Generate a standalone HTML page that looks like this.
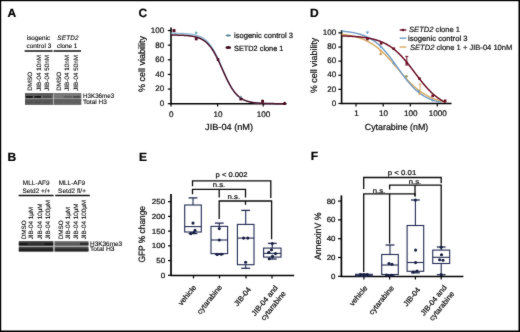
<!DOCTYPE html>
<html><head><meta charset="utf-8"><style>
html,body{margin:0;padding:0;background:#fff;}
svg{display:block;will-change:transform;}
text{font-family:"Liberation Sans", sans-serif;text-rendering:geometricPrecision;}
</style></head><body>
<svg width="520" height="332" viewBox="0 0 520 332">
<defs><filter id="soft" x="0" y="0" width="100%" height="100%" color-interpolation-filters="sRGB"><feConvolveMatrix order="3" kernelMatrix="1 2 1 2 28 2 1 2 1" edgeMode="duplicate"/></filter></defs>
<g filter="url(#soft)">
<rect width="520" height="332" fill="#fff"/>
<text x="7.50" y="16.90" font-size="12" font-weight="bold" fill="#000" stroke="#000" stroke-width="0.22">A</text>
<text x="7.40" y="160.70" font-size="12" font-weight="bold" fill="#000" stroke="#000" stroke-width="0.22">B</text>
<text x="138.50" y="17.20" font-size="12" font-weight="bold" fill="#000" stroke="#000" stroke-width="0.22">C</text>
<text x="310.10" y="17.10" font-size="12" font-weight="bold" fill="#000" stroke="#000" stroke-width="0.22">D</text>
<text x="139.10" y="160.50" font-size="12" font-weight="bold" fill="#000" stroke="#000" stroke-width="0.22">E</text>
<text x="310.80" y="160.40" font-size="12" font-weight="bold" fill="#000" stroke="#000" stroke-width="0.22">F</text>
<text x="38.50" y="39.80" font-size="6.4" text-anchor="middle" textLength="23.6" lengthAdjust="spacing" stroke="#1a1a1a" stroke-width="0.12">isogenic</text>
<text x="38.80" y="47.60" font-size="6.4" text-anchor="middle" textLength="24.8" lengthAdjust="spacing" stroke="#1a1a1a" stroke-width="0.12">control 3</text>
<text x="68.00" y="39.80" font-size="6.4" text-anchor="middle" font-style="italic" textLength="21.3" lengthAdjust="spacing" stroke="#1a1a1a" stroke-width="0.12">SETD2</text>
<text x="67.20" y="47.60" font-size="6.4" text-anchor="middle" textLength="20.3" lengthAdjust="spacing" stroke="#1a1a1a" stroke-width="0.12">clone 1</text>
<line x1="24.60" y1="51.00" x2="52.60" y2="51.00" stroke="#111" stroke-width="1.5"/>
<line x1="53.60" y1="51.00" x2="81.00" y2="51.00" stroke="#111" stroke-width="1.5"/>
<text transform="translate(31.90,90.80) rotate(-90)" font-size="6.3" stroke="#1a1a1a" stroke-width="0.12">DMSO</text>
<text transform="translate(40.80,90.80) rotate(-90)" font-size="6.3" stroke="#1a1a1a" stroke-width="0.12">JIB-04 10nM</text>
<text transform="translate(49.40,90.80) rotate(-90)" font-size="6.3" stroke="#1a1a1a" stroke-width="0.12">JIB-04 50nM</text>
<text transform="translate(60.80,90.80) rotate(-90)" font-size="6.3" stroke="#1a1a1a" stroke-width="0.12">DMSO</text>
<text transform="translate(69.20,90.80) rotate(-90)" font-size="6.3" stroke="#1a1a1a" stroke-width="0.12">JIB-04 10nM</text>
<text transform="translate(77.70,90.80) rotate(-90)" font-size="6.3" stroke="#1a1a1a" stroke-width="0.12">JIB-04 50nM</text>
<rect x="25.00" y="93.50" width="56.20" height="11.20" fill="#6c6c6c"/>
<rect x="25.00" y="93.50" width="28.20" height="5.10" fill="#646464"/>
<rect x="25.00" y="93.50" width="56.20" height="1.00" fill="#444444"/>
<rect x="53.80" y="93.50" width="27.40" height="5.10" fill="#7a7a7a"/>
<rect x="25.90" y="95.90" width="6.90" height="2.00" fill="#141414"/>
<rect x="34.40" y="95.90" width="6.60" height="2.00" fill="#181818"/>
<rect x="42.90" y="95.90" width="8.50" height="2.00" fill="#484848"/>
<rect x="54.50" y="95.90" width="7.50" height="2.00" fill="#747474"/>
<rect x="63.50" y="95.90" width="8.50" height="2.00" fill="#5e5e5e"/>
<rect x="73.00" y="95.90" width="7.50" height="2.00" fill="#4c4c4c"/>
<rect x="25.00" y="98.60" width="56.20" height="0.90" fill="#c4c4c4"/>
<rect x="25.00" y="99.50" width="28.20" height="5.20" fill="#5e5e5e"/>
<rect x="53.80" y="99.50" width="27.40" height="5.20" fill="#686868"/>
<rect x="25.00" y="99.50" width="56.20" height="0.90" fill="#4a4a4a"/>
<rect x="25.90" y="101.60" width="7.20" height="1.60" fill="#4e4e4e"/>
<rect x="34.40" y="101.60" width="7.20" height="1.60" fill="#4e4e4e"/>
<rect x="42.90" y="101.60" width="7.20" height="1.60" fill="#4e4e4e"/>
<rect x="54.50" y="101.60" width="8.00" height="1.60" fill="#5c5c5c"/>
<rect x="63.50" y="101.60" width="8.00" height="1.60" fill="#5c5c5c"/>
<rect x="72.50" y="101.60" width="8.00" height="1.60" fill="#5c5c5c"/>
<rect x="53.00" y="93.50" width="0.90" height="11.20" fill="#bdbdbd"/>
<text x="83.00" y="98.40" font-size="6.3" textLength="31.2" lengthAdjust="spacingAndGlyphs" stroke="#1a1a1a" stroke-width="0.12">H3K36me3</text>
<text x="83.00" y="103.90" font-size="6.3" textLength="23.8" lengthAdjust="spacingAndGlyphs" stroke="#1a1a1a" stroke-width="0.12">Total H3</text>
<text x="36.20" y="184.80" font-size="6.4" text-anchor="middle" textLength="26.7" lengthAdjust="spacing" stroke="#1a1a1a" stroke-width="0.12">MLL-AF9</text>
<text x="36.40" y="192.50" font-size="6.4" text-anchor="middle" textLength="27.9" lengthAdjust="spacing" stroke="#1a1a1a" stroke-width="0.12">Setd2 +/+</text>
<text x="71.90" y="184.80" font-size="6.4" text-anchor="middle" textLength="26.4" lengthAdjust="spacing" stroke="#1a1a1a" stroke-width="0.12">MLL-AF9</text>
<text x="72.00" y="192.50" font-size="6.4" text-anchor="middle" textLength="27.9" lengthAdjust="spacing" stroke="#1a1a1a" stroke-width="0.12">Setd2 fl/+</text>
<line x1="18.60" y1="195.50" x2="53.60" y2="195.50" stroke="#111" stroke-width="1.5"/>
<line x1="55.20" y1="195.50" x2="89.80" y2="195.50" stroke="#111" stroke-width="1.5"/>
<text transform="translate(26.10,239.30) rotate(-90)" font-size="6.3" stroke="#1a1a1a" stroke-width="0.12">DMSO</text>
<text transform="translate(33.20,239.30) rotate(-90)" font-size="6.3" stroke="#1a1a1a" stroke-width="0.12">JIB-04 1μM</text>
<text transform="translate(41.50,239.30) rotate(-90)" font-size="6.3" stroke="#1a1a1a" stroke-width="0.12">JIB-04 10μM</text>
<text transform="translate(49.70,239.30) rotate(-90)" font-size="6.3" stroke="#1a1a1a" stroke-width="0.12">JIB-04 100μM</text>
<text transform="translate(62.60,239.30) rotate(-90)" font-size="6.3" stroke="#1a1a1a" stroke-width="0.12">DMSO</text>
<text transform="translate(70.20,239.30) rotate(-90)" font-size="6.3" stroke="#1a1a1a" stroke-width="0.12">JIB-04 1μM</text>
<text transform="translate(78.00,239.30) rotate(-90)" font-size="6.3" stroke="#1a1a1a" stroke-width="0.12">JIB-04 10μM</text>
<text transform="translate(86.00,239.30) rotate(-90)" font-size="6.3" stroke="#1a1a1a" stroke-width="0.12">JIB-04 100μM</text>
<rect x="18.80" y="241.10" width="34.60" height="5.00" fill="#464646"/>
<rect x="18.80" y="242.80" width="34.60" height="2.20" fill="#1a1a1a"/>
<rect x="27.50" y="242.80" width="17.00" height="2.20" fill="#303030"/>
<rect x="54.50" y="241.10" width="34.00" height="5.00" fill="#747474"/>
<rect x="54.50" y="242.60" width="25.50" height="2.40" fill="#585858"/>
<rect x="80.00" y="242.60" width="8.50" height="2.40" fill="#2e2e2e"/>
<rect x="18.80" y="246.10" width="69.70" height="0.80" fill="#a8a8a8"/>
<rect x="18.80" y="246.90" width="34.60" height="4.90" fill="#444444"/>
<rect x="18.80" y="248.60" width="34.60" height="2.20" fill="#1c1c1c"/>
<rect x="54.50" y="246.90" width="34.00" height="4.90" fill="#505050"/>
<rect x="54.50" y="248.60" width="34.00" height="2.20" fill="#262626"/>
<rect x="53.40" y="241.10" width="1.10" height="10.70" fill="#b0b0b0"/>
<text x="90.00" y="245.60" font-size="6.4" textLength="32.2" lengthAdjust="spacingAndGlyphs" stroke="#1a1a1a" stroke-width="0.12">H3K36me3</text>
<text x="90.00" y="250.90" font-size="6.4" textLength="24.5" lengthAdjust="spacingAndGlyphs" stroke="#1a1a1a" stroke-width="0.12">Total H3</text>
<line x1="171.00" y1="27.50" x2="171.00" y2="104.30" stroke="#000" stroke-width="1.6"/>
<line x1="170.40" y1="103.70" x2="286.50" y2="103.70" stroke="#000" stroke-width="1.5"/>
<line x1="167.80" y1="103.70" x2="171.00" y2="103.70" stroke="#000" stroke-width="1.2"/>
<text x="164.20" y="106.05" font-size="8.0" text-anchor="end" stroke="#1a1a1a" stroke-width="0.22">0</text>
<line x1="167.80" y1="89.07" x2="171.00" y2="89.07" stroke="#000" stroke-width="1.2"/>
<text x="164.20" y="91.42" font-size="8.0" text-anchor="end" stroke="#1a1a1a" stroke-width="0.22">20</text>
<line x1="167.80" y1="74.44" x2="171.00" y2="74.44" stroke="#000" stroke-width="1.2"/>
<text x="164.20" y="76.79" font-size="8.0" text-anchor="end" stroke="#1a1a1a" stroke-width="0.22">40</text>
<line x1="167.80" y1="59.81" x2="171.00" y2="59.81" stroke="#000" stroke-width="1.2"/>
<text x="164.20" y="62.16" font-size="8.0" text-anchor="end" stroke="#1a1a1a" stroke-width="0.22">60</text>
<line x1="167.80" y1="45.18" x2="171.00" y2="45.18" stroke="#000" stroke-width="1.2"/>
<text x="164.20" y="47.53" font-size="8.0" text-anchor="end" stroke="#1a1a1a" stroke-width="0.22">80</text>
<line x1="167.80" y1="30.55" x2="171.00" y2="30.55" stroke="#000" stroke-width="1.2"/>
<text x="164.20" y="32.90" font-size="8.0" text-anchor="end" stroke="#1a1a1a" stroke-width="0.22">100</text>
<line x1="171.00" y1="103.70" x2="171.00" y2="106.60" stroke="#000" stroke-width="1.2"/>
<text x="171.30" y="116.50" font-size="8.1" text-anchor="middle" stroke="#1a1a1a" stroke-width="0.22">0</text>
<line x1="217.60" y1="103.70" x2="217.60" y2="106.60" stroke="#000" stroke-width="1.2"/>
<text x="217.90" y="116.50" font-size="8.1" text-anchor="middle" stroke="#1a1a1a" stroke-width="0.22">10</text>
<line x1="263.20" y1="103.70" x2="263.20" y2="106.60" stroke="#000" stroke-width="1.2"/>
<text x="263.50" y="116.50" font-size="8.1" text-anchor="middle" stroke="#1a1a1a" stroke-width="0.22">100</text>
<text x="229.05" y="129.90" font-size="8.9" text-anchor="middle" textLength="47.9" lengthAdjust="spacingAndGlyphs" stroke="#1a1a1a" stroke-width="0.22">JIB-04 (nM)</text>
<text transform="translate(144.80,63.90) rotate(-90)" font-size="9.3" text-anchor="middle" textLength="56.0" lengthAdjust="spacingAndGlyphs" stroke="#1a1a1a" stroke-width="0.22">% cell viability</text>
<path d="M171.00,33.19 L171.96,33.20 L172.92,33.21 L173.88,33.22 L174.83,33.24 L175.79,33.26 L176.75,33.28 L177.71,33.30 L178.67,33.33 L179.62,33.36 L180.58,33.39 L181.54,33.43 L182.50,33.47 L183.46,33.52 L184.42,33.57 L185.38,33.63 L186.33,33.70 L187.29,33.78 L188.25,33.87 L189.21,33.98 L190.17,34.09 L191.12,34.22 L192.08,34.37 L193.04,34.54 L194.00,34.73 L194.96,34.94 L195.92,35.18 L196.88,35.45 L197.83,35.76 L198.79,36.10 L199.75,36.49 L200.71,36.92 L201.67,37.41 L202.62,37.95 L203.58,38.56 L204.54,39.23 L205.50,39.98 L206.46,40.81 L207.42,41.73 L208.38,42.74 L209.33,43.84 L210.29,45.05 L211.25,46.37 L212.21,47.79 L213.17,49.32 L214.12,50.96 L215.08,52.71 L216.04,54.56 L217.00,56.51 L217.96,58.54 L218.92,60.64 L219.88,62.80 L220.83,65.01 L221.79,67.24 L222.75,69.48 L223.71,71.72 L224.67,73.92 L225.62,76.09 L226.58,78.19 L227.54,80.22 L228.50,82.17 L229.46,84.03 L230.42,85.78 L231.38,87.42 L232.33,88.96 L233.29,90.39 L234.25,91.71 L235.21,92.92 L236.17,94.03 L237.12,95.04 L238.08,95.96 L239.04,96.80 L240.00,97.55 L240.96,98.23 L241.92,98.84 L242.88,99.38 L243.83,99.87 L244.79,100.30 L245.75,100.69 L246.71,101.04 L247.67,101.34 L248.62,101.62 L249.58,101.86 L250.54,102.07 L251.50,102.26 L252.46,102.43 L253.42,102.58 L254.38,102.71 L255.33,102.83 L256.29,102.93 L257.25,103.02 L258.21,103.10 L259.17,103.17 L260.12,103.24 L261.08,103.29 L262.04,103.34 L263.00,103.38 L263.96,103.42 L264.92,103.45 L265.88,103.48 L266.83,103.51 L267.79,103.53 L268.75,103.55 L269.71,103.57 L270.67,103.58 L271.62,103.60 L272.58,103.61 L273.54,103.62 L274.50,103.63 L275.46,103.64 L276.42,103.65 L277.38,103.65 L278.33,103.66 L279.29,103.66 L280.25,103.67 L281.21,103.67 L282.17,103.67 L283.12,103.68 L284.08,103.68 L285.04,103.68 L286.00,103.68" stroke="#8bbbd9" stroke-width="1.3" fill="none"/>
<path d="M171.00,35.02 L171.96,35.03 L172.92,35.04 L173.88,35.06 L174.83,35.07 L175.79,35.09 L176.75,35.11 L177.71,35.13 L178.67,35.16 L179.62,35.19 L180.58,35.22 L181.54,35.26 L182.50,35.31 L183.46,35.35 L184.42,35.41 L185.38,35.47 L186.33,35.54 L187.29,35.62 L188.25,35.71 L189.21,35.81 L190.17,35.93 L191.12,36.06 L192.08,36.21 L193.04,36.37 L194.00,36.56 L194.96,36.77 L195.92,37.01 L196.88,37.28 L197.83,37.58 L198.79,37.92 L199.75,38.30 L200.71,38.73 L201.67,39.20 L202.62,39.73 L203.58,40.32 L204.54,40.98 L205.50,41.71 L206.46,42.52 L207.42,43.41 L208.38,44.39 L209.33,45.46 L210.29,46.63 L211.25,47.90 L212.21,49.27 L213.17,50.75 L214.12,52.33 L215.08,54.02 L216.04,55.80 L217.00,57.67 L217.96,59.62 L218.92,61.64 L219.88,63.72 L220.83,65.84 L221.79,67.99 L222.75,70.15 L223.71,72.30 L224.67,74.43 L225.62,76.52 L226.58,78.56 L227.54,80.53 L228.50,82.42 L229.46,84.22 L230.42,85.92 L231.38,87.53 L232.33,89.03 L233.29,90.43 L234.25,91.72 L235.21,92.92 L236.17,94.01 L237.12,95.01 L238.08,95.92 L239.04,96.75 L240.00,97.49 L240.96,98.17 L241.92,98.77 L242.88,99.32 L243.83,99.81 L244.79,100.24 L245.75,100.63 L246.71,100.98 L247.67,101.29 L248.62,101.57 L249.58,101.81 L250.54,102.03 L251.50,102.22 L252.46,102.39 L253.42,102.55 L254.38,102.68 L255.33,102.80 L256.29,102.90 L257.25,103.00 L258.21,103.08 L259.17,103.15 L260.12,103.22 L261.08,103.27 L262.04,103.32 L263.00,103.37 L263.96,103.41 L264.92,103.44 L265.88,103.47 L266.83,103.50 L267.79,103.52 L268.75,103.54 L269.71,103.56 L270.67,103.58 L271.62,103.59 L272.58,103.61 L273.54,103.62 L274.50,103.63 L275.46,103.63 L276.42,103.64 L277.38,103.65 L278.33,103.66 L279.29,103.66 L280.25,103.67 L281.21,103.67 L282.17,103.67 L283.12,103.68 L284.08,103.68 L285.04,103.68 L286.00,103.68" stroke="#4a1028" stroke-width="1.5" fill="none"/>
<rect x="172.50" y="29.10" width="3.00" height="3.00" fill="#5a0a22"/>
<line x1="194.90" y1="32.80" x2="197.50" y2="32.80" stroke="#4a9aaa" stroke-width="1.0"/>
<line x1="196.20" y1="31.50" x2="196.20" y2="34.10" stroke="#4a9aaa" stroke-width="1.0"/>
<rect x="194.80" y="37.50" width="2.80" height="2.80" fill="#4a0a1e"/>
<rect x="216.70" y="58.20" width="2.60" height="2.60" fill="#4a0a1e"/>
<line x1="239.60" y1="96.90" x2="242.00" y2="96.90" stroke="#6aa0b0" stroke-width="1.0"/>
<line x1="240.80" y1="95.70" x2="240.80" y2="98.10" stroke="#6aa0b0" stroke-width="1.0"/>
<rect x="239.40" y="97.60" width="2.80" height="2.80" fill="#4a0a1e"/>
<line x1="262.30" y1="99.60" x2="262.30" y2="103.00" stroke="#6a1028" stroke-width="1.0"/>
<rect x="261.20" y="99.90" width="2.80" height="2.80" fill="#4a0a1e"/>
<circle cx="284.6" cy="103.4" r="1.6" fill="#4a0a1e"/>
<ellipse cx="228.3" cy="35.5" rx="2.7" ry="1.1" fill="#4a7a92"/>
<ellipse cx="228.3" cy="47.5" rx="2.9" ry="1.5" fill="#3e0a1c"/>
<text x="234.00" y="38.20" font-size="7.65" textLength="59.0" lengthAdjust="spacingAndGlyphs" stroke="#1a1a1a" stroke-width="0.22">isogenic control 3</text>
<text x="234.00" y="50.50" font-size="7.65" textLength="49.4" lengthAdjust="spacingAndGlyphs" stroke="#1a1a1a" stroke-width="0.22">SETD2 clone 1</text>
<line x1="341.60" y1="30.20" x2="341.60" y2="104.10" stroke="#000" stroke-width="1.6"/>
<line x1="341.00" y1="103.50" x2="451.50" y2="103.50" stroke="#000" stroke-width="1.5"/>
<line x1="338.40" y1="103.50" x2="341.60" y2="103.50" stroke="#000" stroke-width="1.2"/>
<text x="336.20" y="105.65" font-size="8.0" text-anchor="end" stroke="#1a1a1a" stroke-width="0.22">0</text>
<line x1="338.40" y1="89.38" x2="341.60" y2="89.38" stroke="#000" stroke-width="1.2"/>
<text x="336.20" y="91.53" font-size="8.0" text-anchor="end" stroke="#1a1a1a" stroke-width="0.22">20</text>
<line x1="338.40" y1="75.26" x2="341.60" y2="75.26" stroke="#000" stroke-width="1.2"/>
<text x="336.20" y="77.41" font-size="8.0" text-anchor="end" stroke="#1a1a1a" stroke-width="0.22">40</text>
<line x1="338.40" y1="61.14" x2="341.60" y2="61.14" stroke="#000" stroke-width="1.2"/>
<text x="336.20" y="63.29" font-size="8.0" text-anchor="end" stroke="#1a1a1a" stroke-width="0.22">60</text>
<line x1="338.40" y1="47.02" x2="341.60" y2="47.02" stroke="#000" stroke-width="1.2"/>
<text x="336.20" y="49.17" font-size="8.0" text-anchor="end" stroke="#1a1a1a" stroke-width="0.22">80</text>
<line x1="338.40" y1="32.90" x2="341.60" y2="32.90" stroke="#000" stroke-width="1.2"/>
<text x="336.20" y="35.05" font-size="8.0" text-anchor="end" stroke="#1a1a1a" stroke-width="0.22">100</text>
<line x1="356.00" y1="103.50" x2="356.00" y2="106.40" stroke="#000" stroke-width="1.2"/>
<text x="356.40" y="116.30" font-size="8.1" text-anchor="middle" stroke="#1a1a1a" stroke-width="0.22">1</text>
<line x1="383.20" y1="103.50" x2="383.20" y2="106.40" stroke="#000" stroke-width="1.2"/>
<text x="383.60" y="116.30" font-size="8.1" text-anchor="middle" stroke="#1a1a1a" stroke-width="0.22">10</text>
<line x1="410.30" y1="103.50" x2="410.30" y2="106.40" stroke="#000" stroke-width="1.2"/>
<text x="410.70" y="116.30" font-size="8.1" text-anchor="middle" stroke="#1a1a1a" stroke-width="0.22">100</text>
<line x1="437.30" y1="103.50" x2="437.30" y2="106.40" stroke="#000" stroke-width="1.2"/>
<text x="437.70" y="116.30" font-size="8.1" text-anchor="middle" stroke="#1a1a1a" stroke-width="0.22">1000</text>
<text x="396.50" y="130.00" font-size="8.9" text-anchor="middle" textLength="63.5" lengthAdjust="spacingAndGlyphs" stroke="#1a1a1a" stroke-width="0.22">Cytarabine (nM)</text>
<text transform="translate(316.60,65.40) rotate(-90)" font-size="9.3" text-anchor="middle" textLength="55.3" lengthAdjust="spacingAndGlyphs" stroke="#1a1a1a" stroke-width="0.22">% cell viability</text>
<path d="M341.60,34.20 L342.04,34.25 L342.48,34.30 L342.92,34.36 L343.36,34.42 L343.80,34.47 L344.24,34.53 L344.69,34.60 L345.13,34.66 L345.57,34.72 L346.01,34.79 L346.45,34.86 L346.89,34.93 L347.33,35.00 L347.77,35.08 L348.21,35.15 L348.65,35.23 L349.09,35.31 L349.53,35.39 L349.98,35.48 L350.42,35.57 L350.86,35.65 L351.30,35.75 L351.74,35.84 L352.18,35.94 L352.62,36.04 L353.06,36.14 L353.50,36.24 L353.94,36.35 L354.38,36.46 L354.82,36.57 L355.26,36.69 L355.71,36.80 L356.15,36.93 L356.59,37.05 L357.03,37.18 L357.47,37.31 L357.91,37.44 L358.35,37.58 L358.79,37.72 L359.23,37.87 L359.67,38.01 L360.11,38.16 L360.55,38.32 L360.99,38.48 L361.44,38.64 L361.88,38.81 L362.32,38.98 L362.76,39.15 L363.20,39.33 L363.64,39.52 L364.08,39.70 L364.52,39.89 L364.96,40.09 L365.40,40.29 L365.84,40.50 L366.28,40.70 L366.73,40.92 L367.17,41.14 L367.61,41.36 L368.05,41.59 L368.49,41.82 L368.93,42.06 L369.37,42.31 L369.81,42.56 L370.25,42.81 L370.69,43.07 L371.13,43.33 L371.57,43.60 L372.01,43.88 L372.46,44.16 L372.90,44.44 L373.34,44.74 L373.78,45.03 L374.22,45.34 L374.66,45.65 L375.10,45.96 L375.54,46.28 L375.98,46.60 L376.42,46.94 L376.86,47.27 L377.30,47.62 L377.74,47.96 L378.19,48.32 L378.63,48.68 L379.07,49.04 L379.51,49.42 L379.95,49.79 L380.39,50.18 L380.83,50.56 L381.27,50.96 L381.71,51.36 L382.15,51.76 L382.59,52.17 L383.03,52.59 L383.48,53.01 L383.92,53.44 L384.36,53.87 L384.80,54.30 L385.24,54.75 L385.68,55.19 L386.12,55.64 L386.56,56.10 L387.00,56.56 L387.44,57.02 L387.88,57.49 L388.32,57.97 L388.76,58.44 L389.21,58.93 L389.65,59.41 L390.09,59.90 L390.53,60.39 L390.97,60.89 L391.41,61.39 L391.85,61.89 L392.29,62.39 L392.73,62.90 L393.17,63.41 L393.61,63.92 L394.05,64.43 L394.50,64.94 L394.94,65.46 L395.38,65.98 L395.82,66.50 L396.26,67.01 L396.70,67.53 L397.14,68.05 L397.58,68.58 L398.02,69.10 L398.46,69.62 L398.90,70.14 L399.34,70.66 L399.78,71.18 L400.23,71.69 L400.67,72.21 L401.11,72.73 L401.55,73.24 L401.99,73.75 L402.43,74.26 L402.87,74.77 L403.31,75.27 L403.75,75.78 L404.19,76.28 L404.63,76.77 L405.07,77.27 L405.51,77.76 L405.96,78.24 L406.40,78.73 L406.84,79.21 L407.28,79.68 L407.72,80.15 L408.16,80.62 L408.60,81.08 L409.04,81.54 L409.48,81.99 L409.92,82.44 L410.36,82.89 L410.80,83.33 L411.25,83.76 L411.69,84.19 L412.13,84.61 L412.57,85.03 L413.01,85.45 L413.45,85.85 L413.89,86.26 L414.33,86.65 L414.77,87.04 L415.21,87.43 L415.65,87.81 L416.09,88.18 L416.53,88.55 L416.98,88.91 L417.42,89.27 L417.86,89.62 L418.30,89.97 L418.74,90.31 L419.18,90.64 L419.62,90.97 L420.06,91.29 L420.50,91.61 L420.94,91.92 L421.38,92.23 L421.82,92.53 L422.26,92.82 L422.71,93.11 L423.15,93.39 L423.59,93.67 L424.03,93.94 L424.47,94.21 L424.91,94.47 L425.35,94.73 L425.79,94.98 L426.23,95.23 L426.67,95.47 L427.11,95.71 L427.55,95.94 L428.00,96.16 L428.44,96.38 L428.88,96.60 L429.32,96.81 L429.76,97.02 L430.20,97.22 L430.64,97.42 L431.08,97.61 L431.52,97.80 L431.96,97.99 L432.40,98.17 L432.84,98.35 L433.28,98.52 L433.73,98.69 L434.17,98.85 L434.61,99.01 L435.05,99.17 L435.49,99.32 L435.93,99.47 L436.37,99.62 L436.81,99.76 L437.25,99.90 L437.69,100.04 L438.13,100.17 L438.57,100.30 L439.01,100.42 L439.46,100.55 L439.90,100.67 L440.34,100.78 L440.78,100.90 L441.22,101.01 L441.66,101.12 L442.10,101.22 L442.54,101.33 L442.98,101.43 L443.42,101.52 L443.86,101.62 L444.30,101.71 L444.75,101.80 L445.19,101.89" stroke="#d8a860" stroke-width="1.4" fill="none"/>
<path d="M341.60,31.17 L342.04,31.20 L342.47,31.24 L342.91,31.28 L343.34,31.32 L343.78,31.36 L344.21,31.40 L344.65,31.44 L345.08,31.49 L345.52,31.54 L345.95,31.58 L346.39,31.63 L346.82,31.68 L347.26,31.74 L347.69,31.79 L348.13,31.84 L348.56,31.90 L349.00,31.96 L349.43,32.02 L349.87,32.09 L350.30,32.15 L350.74,32.22 L351.17,32.29 L351.61,32.36 L352.04,32.43 L352.48,32.51 L352.92,32.59 L353.35,32.67 L353.79,32.75 L354.22,32.84 L354.66,32.93 L355.09,33.02 L355.53,33.11 L355.96,33.21 L356.40,33.31 L356.83,33.41 L357.27,33.52 L357.70,33.62 L358.14,33.74 L358.57,33.85 L359.01,33.97 L359.44,34.10 L359.88,34.22 L360.31,34.35 L360.75,34.49 L361.18,34.62 L361.62,34.77 L362.05,34.91 L362.49,35.06 L362.92,35.22 L363.36,35.38 L363.80,35.54 L364.23,35.71 L364.67,35.88 L365.10,36.06 L365.54,36.24 L365.97,36.43 L366.41,36.62 L366.84,36.82 L367.28,37.03 L367.71,37.24 L368.15,37.45 L368.58,37.67 L369.02,37.90 L369.45,38.13 L369.89,38.37 L370.32,38.61 L370.76,38.87 L371.19,39.12 L371.63,39.39 L372.06,39.66 L372.50,39.93 L372.93,40.22 L373.37,40.51 L373.80,40.81 L374.24,41.11 L374.68,41.42 L375.11,41.74 L375.55,42.07 L375.98,42.40 L376.42,42.74 L376.85,43.09 L377.29,43.45 L377.72,43.81 L378.16,44.19 L378.59,44.56 L379.03,44.95 L379.46,45.35 L379.90,45.75 L380.33,46.16 L380.77,46.58 L381.20,47.00 L381.64,47.44 L382.07,47.88 L382.51,48.33 L382.94,48.78 L383.38,49.25 L383.81,49.72 L384.25,50.20 L384.68,50.68 L385.12,51.18 L385.55,51.68 L385.99,52.18 L386.43,52.70 L386.86,53.22 L387.30,53.75 L387.73,54.28 L388.17,54.82 L388.60,55.37 L389.04,55.92 L389.47,56.48 L389.91,57.04 L390.34,57.61 L390.78,58.18 L391.21,58.76 L391.65,59.34 L392.08,59.93 L392.52,60.52 L392.95,61.12 L393.39,61.72 L393.82,62.32 L394.26,62.92 L394.69,63.53 L395.13,64.14 L395.56,64.75 L396.00,65.36 L396.43,65.97 L396.87,66.58 L397.31,67.20 L397.74,67.81 L398.18,68.43 L398.61,69.04 L399.05,69.66 L399.48,70.27 L399.92,70.88 L400.35,71.49 L400.79,72.09 L401.22,72.70 L401.66,73.30 L402.09,73.90 L402.53,74.49 L402.96,75.09 L403.40,75.67 L403.83,76.26 L404.27,76.84 L404.70,77.41 L405.14,77.98 L405.57,78.55 L406.01,79.11 L406.44,79.66 L406.88,80.21 L407.31,80.75 L407.75,81.29 L408.19,81.82 L408.62,82.34 L409.06,82.86 L409.49,83.37 L409.93,83.87 L410.36,84.36 L410.80,84.85 L411.23,85.33 L411.67,85.81 L412.10,86.27 L412.54,86.73 L412.97,87.18 L413.41,87.62 L413.84,88.06 L414.28,88.49 L414.71,88.91 L415.15,89.32 L415.58,89.73 L416.02,90.12 L416.45,90.51 L416.89,90.89 L417.32,91.27 L417.76,91.63 L418.19,91.99 L418.63,92.34 L419.07,92.68 L419.50,93.02 L419.94,93.35 L420.37,93.67 L420.81,93.98 L421.24,94.29 L421.68,94.59 L422.11,94.88 L422.55,95.17 L422.98,95.45 L423.42,95.72 L423.85,95.99 L424.29,96.25 L424.72,96.50 L425.16,96.75 L425.59,96.99 L426.03,97.22 L426.46,97.45 L426.90,97.67 L427.33,97.89 L427.77,98.10 L428.20,98.30 L428.64,98.50 L429.07,98.70 L429.51,98.89 L429.95,99.07 L430.38,99.25 L430.82,99.43 L431.25,99.60 L431.69,99.76 L432.12,99.92 L432.56,100.08 L432.99,100.23 L433.43,100.38 L433.86,100.52 L434.30,100.66 L434.73,100.79 L435.17,100.92 L435.60,101.05 L436.04,101.18 L436.47,101.30 L436.91,101.41 L437.34,101.53 L437.78,101.64 L438.21,101.74 L438.65,101.85 L439.08,101.95 L439.52,102.05 L439.95,102.14 L440.39,102.23 L440.83,102.32" stroke="#6e9ac4" stroke-width="1.4" fill="none"/>
<path d="M341.60,35.93 L342.04,35.94 L342.48,35.95 L342.92,35.97 L343.36,35.98 L343.80,35.99 L344.24,36.01 L344.69,36.02 L345.13,36.04 L345.57,36.06 L346.01,36.07 L346.45,36.09 L346.89,36.11 L347.33,36.13 L347.77,36.15 L348.21,36.17 L348.65,36.19 L349.09,36.21 L349.53,36.23 L349.98,36.25 L350.42,36.27 L350.86,36.30 L351.30,36.32 L351.74,36.35 L352.18,36.37 L352.62,36.40 L353.06,36.43 L353.50,36.45 L353.94,36.48 L354.38,36.51 L354.82,36.54 L355.26,36.58 L355.71,36.61 L356.15,36.64 L356.59,36.68 L357.03,36.72 L357.47,36.75 L357.91,36.79 L358.35,36.83 L358.79,36.87 L359.23,36.91 L359.67,36.96 L360.11,37.00 L360.55,37.05 L360.99,37.10 L361.44,37.14 L361.88,37.19 L362.32,37.25 L362.76,37.30 L363.20,37.36 L363.64,37.41 L364.08,37.47 L364.52,37.53 L364.96,37.59 L365.40,37.66 L365.84,37.72 L366.28,37.79 L366.73,37.86 L367.17,37.93 L367.61,38.01 L368.05,38.08 L368.49,38.16 L368.93,38.24 L369.37,38.33 L369.81,38.41 L370.25,38.50 L370.69,38.59 L371.13,38.69 L371.57,38.78 L372.01,38.88 L372.46,38.98 L372.90,39.09 L373.34,39.20 L373.78,39.31 L374.22,39.42 L374.66,39.54 L375.10,39.66 L375.54,39.79 L375.98,39.91 L376.42,40.05 L376.86,40.18 L377.30,40.32 L377.74,40.46 L378.19,40.61 L378.63,40.76 L379.07,40.92 L379.51,41.07 L379.95,41.24 L380.39,41.41 L380.83,41.58 L381.27,41.76 L381.71,41.94 L382.15,42.12 L382.59,42.31 L383.03,42.51 L383.48,42.71 L383.92,42.92 L384.36,43.13 L384.80,43.35 L385.24,43.57 L385.68,43.80 L386.12,44.03 L386.56,44.27 L387.00,44.52 L387.44,44.77 L387.88,45.03 L388.32,45.29 L388.76,45.56 L389.21,45.83 L389.65,46.12 L390.09,46.41 L390.53,46.70 L390.97,47.00 L391.41,47.31 L391.85,47.63 L392.29,47.95 L392.73,48.28 L393.17,48.61 L393.61,48.95 L394.05,49.30 L394.50,49.66 L394.94,50.02 L395.38,50.39 L395.82,50.77 L396.26,51.15 L396.70,51.54 L397.14,51.94 L397.58,52.35 L398.02,52.76 L398.46,53.18 L398.90,53.61 L399.34,54.04 L399.78,54.48 L400.23,54.93 L400.67,55.38 L401.11,55.84 L401.55,56.31 L401.99,56.78 L402.43,57.26 L402.87,57.75 L403.31,58.24 L403.75,58.74 L404.19,59.25 L404.63,59.76 L405.07,60.27 L405.51,60.79 L405.96,61.32 L406.40,61.85 L406.84,62.39 L407.28,62.93 L407.72,63.48 L408.16,64.03 L408.60,64.58 L409.04,65.14 L409.48,65.70 L409.92,66.27 L410.36,66.83 L410.80,67.40 L411.25,67.98 L411.69,68.55 L412.13,69.13 L412.57,69.71 L413.01,70.29 L413.45,70.88 L413.89,71.46 L414.33,72.04 L414.77,72.63 L415.21,73.21 L415.65,73.79 L416.09,74.38 L416.53,74.96 L416.98,75.54 L417.42,76.12 L417.86,76.70 L418.30,77.28 L418.74,77.85 L419.18,78.42 L419.62,78.99 L420.06,79.56 L420.50,80.12 L420.94,80.68 L421.38,81.24 L421.82,81.79 L422.26,82.34 L422.71,82.88 L423.15,83.42 L423.59,83.95 L424.03,84.48 L424.47,85.00 L424.91,85.52 L425.35,86.03 L425.79,86.54 L426.23,87.04 L426.67,87.54 L427.11,88.03 L427.55,88.51 L428.00,88.98 L428.44,89.45 L428.88,89.92 L429.32,90.37 L429.76,90.82 L430.20,91.26 L430.64,91.70 L431.08,92.13 L431.52,92.55 L431.96,92.97 L432.40,93.37 L432.84,93.77 L433.28,94.17 L433.73,94.55 L434.17,94.93 L434.61,95.31 L435.05,95.67 L435.49,96.03 L435.93,96.38 L436.37,96.73 L436.81,97.07 L437.25,97.40 L437.69,97.72 L438.13,98.04 L438.57,98.35 L439.01,98.65 L439.46,98.95 L439.90,99.24 L440.34,99.52 L440.78,99.80 L441.22,100.07 L441.66,100.34 L442.10,100.60 L442.54,100.85 L442.98,101.10 L443.42,101.34 L443.86,101.58 L444.30,101.81 L444.75,102.03 L445.19,102.25 L445.63,102.46" stroke="#6a0e26" stroke-width="1.5" fill="none"/>
<path d="M365.9,31.4 L369.1,31.4 L367.5,34.2 Z" fill="#5c8fc8"/>
<rect x="366.20" y="37.70" width="2.60" height="2.60" fill="#6a0e26"/>
<rect x="379.80" y="42.10" width="2.60" height="2.60" fill="#6a0e26"/>
<line x1="379.70" y1="47.00" x2="382.30" y2="47.00" stroke="#6a9ac8" stroke-width="1.0"/>
<line x1="381.00" y1="45.70" x2="381.00" y2="48.30" stroke="#6a9ac8" stroke-width="1.0"/>
<line x1="380.70" y1="50.70" x2="380.70" y2="55.30" stroke="#d8a860" stroke-width="1.0"/>
<line x1="379.20" y1="50.70" x2="382.20" y2="50.70" stroke="#d8a860" stroke-width="1.0"/>
<path d="M379.1,54.8 L382.3,54.8 L380.7,51.9 Z" fill="#c89040"/>
<rect x="392.50" y="47.40" width="2.60" height="2.60" fill="#6a0e26"/>
<line x1="392.30" y1="63.60" x2="394.90" y2="63.60" stroke="#6a9ac8" stroke-width="1.0"/>
<line x1="393.60" y1="62.30" x2="393.60" y2="64.90" stroke="#6a9ac8" stroke-width="1.0"/>
<line x1="406.80" y1="56.40" x2="406.80" y2="65.00" stroke="#6a0e26" stroke-width="1.0"/>
<line x1="405.30" y1="56.40" x2="408.30" y2="56.40" stroke="#6a0e26" stroke-width="1.0"/>
<line x1="405.30" y1="65.00" x2="408.30" y2="65.00" stroke="#6a0e26" stroke-width="1.0"/>
<rect x="405.50" y="61.70" width="2.60" height="2.60" fill="#6a0e26"/>
<circle cx="406.5" cy="76.3" r="1.4" fill="#9a9a6a"/>
<rect x="418.20" y="77.30" width="2.60" height="2.60" fill="#6a0e26"/>
<line x1="420.00" y1="84.00" x2="420.00" y2="94.50" stroke="#d8a860" stroke-width="1.0"/>
<line x1="418.50" y1="84.00" x2="421.50" y2="84.00" stroke="#d8a860" stroke-width="1.0"/>
<line x1="417.30" y1="91.30" x2="419.90" y2="91.30" stroke="#6a9ac8" stroke-width="1.0"/>
<line x1="418.60" y1="90.00" x2="418.60" y2="92.60" stroke="#6a9ac8" stroke-width="1.0"/>
<path d="M418.0,94.6 L421.0,94.6 L419.5,92.0 Z" fill="#d0a050"/>
<rect x="431.40" y="94.50" width="2.60" height="2.60" fill="#6a0e26"/>
<line x1="431.30" y1="100.50" x2="433.70" y2="100.50" stroke="#6a9ac8" stroke-width="1.0"/>
<line x1="432.50" y1="99.30" x2="432.50" y2="101.70" stroke="#6a9ac8" stroke-width="1.0"/>
<rect x="443.90" y="99.50" width="2.60" height="2.60" fill="#6a0e26"/>
<line x1="399.70" y1="30.00" x2="406.30" y2="30.00" stroke="#6a0e26" stroke-width="1.4"/>
<rect x="401.90" y="28.90" width="2.20" height="2.20" fill="#5c0a1c"/>
<line x1="399.70" y1="38.20" x2="406.30" y2="38.20" stroke="#6e9ac4" stroke-width="1.4"/>
<line x1="399.70" y1="47.00" x2="406.30" y2="47.00" stroke="#d8a860" stroke-width="1.4"/>
<text x="409.0" y="32.2" font-size="7.6" fill="#1a1a1a" stroke="#1a1a1a" stroke-width="0.22"><tspan font-style="italic">SETD2</tspan> clone 1</text>
<text x="408.00" y="40.90" font-size="7.6" textLength="59.5" lengthAdjust="spacingAndGlyphs" stroke="#1a1a1a" stroke-width="0.22">isogenic control 3</text>
<text x="410.0" y="49.7" font-size="7.6" fill="#1a1a1a" stroke="#1a1a1a" stroke-width="0.22" textLength="102.3" lengthAdjust="spacingAndGlyphs"><tspan font-style="italic">SETD2</tspan> clone 1 + JIB-04 10nM</text>
<line x1="171.00" y1="194.00" x2="171.00" y2="275.90" stroke="#000" stroke-width="1.7"/>
<line x1="170.40" y1="275.40" x2="294.20" y2="275.40" stroke="#000" stroke-width="1.5"/>
<line x1="168.00" y1="275.30" x2="171.00" y2="275.30" stroke="#000" stroke-width="1.2"/>
<text x="165.20" y="277.80" font-size="7.4" text-anchor="end" textLength="4.48" lengthAdjust="spacingAndGlyphs" stroke="#1a1a1a" stroke-width="0.22">0</text>
<line x1="168.00" y1="260.57" x2="171.00" y2="260.57" stroke="#000" stroke-width="1.2"/>
<text x="165.20" y="263.07" font-size="7.4" text-anchor="end" textLength="8.97" lengthAdjust="spacingAndGlyphs" stroke="#1a1a1a" stroke-width="0.22">50</text>
<line x1="168.00" y1="245.85" x2="171.00" y2="245.85" stroke="#000" stroke-width="1.2"/>
<text x="165.20" y="248.35" font-size="7.4" text-anchor="end" textLength="13.45" lengthAdjust="spacingAndGlyphs" stroke="#1a1a1a" stroke-width="0.22">100</text>
<line x1="168.00" y1="231.12" x2="171.00" y2="231.12" stroke="#000" stroke-width="1.2"/>
<text x="165.20" y="233.62" font-size="7.4" text-anchor="end" textLength="13.45" lengthAdjust="spacingAndGlyphs" stroke="#1a1a1a" stroke-width="0.22">150</text>
<line x1="168.00" y1="216.40" x2="171.00" y2="216.40" stroke="#000" stroke-width="1.2"/>
<text x="165.20" y="218.90" font-size="7.4" text-anchor="end" textLength="13.45" lengthAdjust="spacingAndGlyphs" stroke="#1a1a1a" stroke-width="0.22">200</text>
<line x1="168.00" y1="201.68" x2="171.00" y2="201.68" stroke="#000" stroke-width="1.2"/>
<text x="165.20" y="204.18" font-size="7.4" text-anchor="end" textLength="13.45" lengthAdjust="spacingAndGlyphs" stroke="#1a1a1a" stroke-width="0.22">250</text>
<text transform="translate(144.70,234.30) rotate(-90)" font-size="9.2" text-anchor="middle" textLength="56.6" lengthAdjust="spacingAndGlyphs" stroke="#1a1a1a" stroke-width="0.22">GFP % change</text>
<line x1="193.50" y1="275.30" x2="193.50" y2="278.40" stroke="#000" stroke-width="1.2"/>
<line x1="219.50" y1="275.30" x2="219.50" y2="278.40" stroke="#000" stroke-width="1.2"/>
<line x1="246.00" y1="275.30" x2="246.00" y2="278.40" stroke="#000" stroke-width="1.2"/>
<line x1="272.00" y1="275.30" x2="272.00" y2="278.40" stroke="#000" stroke-width="1.2"/>
<text transform="translate(196.60,287.70) rotate(-51)" font-size="7.6" text-anchor="end" stroke="#1a1a1a" stroke-width="0.22">vehicle</text>
<text transform="translate(222.50,287.40) rotate(-51)" font-size="7.6" text-anchor="end" stroke="#1a1a1a" stroke-width="0.22">cytarabine</text>
<text transform="translate(251.30,289.80) rotate(-51)" font-size="7.6" text-anchor="end" stroke="#1a1a1a" stroke-width="0.22">JIB-04</text>
<text transform="translate(278.20,287.90) rotate(-51)" font-size="7.6" text-anchor="end" stroke="#1a1a1a" stroke-width="0.22">JIB-04 and</text>
<text transform="translate(286.20,293.70) rotate(-51)" font-size="7.6" text-anchor="end" stroke="#1a1a1a" stroke-width="0.22">cytarabine</text>
<rect x="184.70" y="205.00" width="16.60" height="27.00" fill="none" stroke="#222a52" stroke-width="1.1"/>
<line x1="184.70" y1="226.60" x2="201.30" y2="226.60" stroke="#222a52" stroke-width="1.1"/>
<line x1="193.00" y1="197.90" x2="193.00" y2="205.00" stroke="#222a52" stroke-width="1.1"/>
<line x1="188.60" y1="197.90" x2="197.40" y2="197.90" stroke="#222a52" stroke-width="1.3"/>
<line x1="193.00" y1="232.00" x2="193.00" y2="233.50" stroke="#222a52" stroke-width="1.1"/>
<line x1="188.60" y1="233.50" x2="197.40" y2="233.50" stroke="#222a52" stroke-width="1.3"/>
<circle cx="193.00" cy="223.10" r="1.55" fill="#161c40"/>
<circle cx="195.00" cy="230.40" r="1.55" fill="#161c40"/>
<circle cx="190.80" cy="233.60" r="1.55" fill="#161c40"/>
<circle cx="193.80" cy="232.80" r="1.55" fill="#161c40"/>
<rect x="211.00" y="226.40" width="16.60" height="27.20" fill="none" stroke="#222a52" stroke-width="1.1"/>
<line x1="211.00" y1="240.00" x2="227.60" y2="240.00" stroke="#222a52" stroke-width="1.1"/>
<line x1="219.30" y1="223.10" x2="219.30" y2="226.40" stroke="#222a52" stroke-width="1.1"/>
<line x1="214.90" y1="223.10" x2="223.70" y2="223.10" stroke="#222a52" stroke-width="1.3"/>
<line x1="219.30" y1="253.60" x2="219.30" y2="254.40" stroke="#222a52" stroke-width="1.1"/>
<line x1="214.90" y1="254.40" x2="223.70" y2="254.40" stroke="#222a52" stroke-width="1.3"/>
<circle cx="219.30" cy="228.60" r="1.55" fill="#161c40"/>
<circle cx="219.30" cy="240.00" r="1.55" fill="#161c40"/>
<circle cx="217.20" cy="254.50" r="1.55" fill="#161c40"/>
<circle cx="221.30" cy="254.30" r="1.55" fill="#161c40"/>
<rect x="237.40" y="224.40" width="16.60" height="40.30" fill="none" stroke="#222a52" stroke-width="1.1"/>
<line x1="237.40" y1="238.10" x2="254.00" y2="238.10" stroke="#222a52" stroke-width="1.1"/>
<line x1="245.70" y1="210.40" x2="245.70" y2="224.40" stroke="#222a52" stroke-width="1.1"/>
<line x1="241.30" y1="210.40" x2="250.10" y2="210.40" stroke="#222a52" stroke-width="1.3"/>
<line x1="245.70" y1="264.70" x2="245.70" y2="268.30" stroke="#222a52" stroke-width="1.1"/>
<line x1="241.30" y1="268.30" x2="250.10" y2="268.30" stroke="#222a52" stroke-width="1.3"/>
<circle cx="243.60" cy="238.10" r="1.55" fill="#161c40"/>
<circle cx="247.80" cy="238.10" r="1.55" fill="#161c40"/>
<circle cx="245.60" cy="262.20" r="1.55" fill="#161c40"/>
<rect x="263.60" y="248.10" width="17.40" height="9.00" fill="none" stroke="#222a52" stroke-width="1.1"/>
<line x1="263.60" y1="253.40" x2="281.00" y2="253.40" stroke="#222a52" stroke-width="1.1"/>
<line x1="272.30" y1="243.40" x2="272.30" y2="248.10" stroke="#222a52" stroke-width="1.1"/>
<line x1="267.90" y1="243.40" x2="276.70" y2="243.40" stroke="#222a52" stroke-width="1.3"/>
<line x1="272.30" y1="257.10" x2="272.30" y2="259.00" stroke="#222a52" stroke-width="1.1"/>
<line x1="267.90" y1="259.00" x2="276.70" y2="259.00" stroke="#222a52" stroke-width="1.3"/>
<circle cx="272.30" cy="243.60" r="1.55" fill="#161c40"/>
<circle cx="271.50" cy="249.70" r="1.55" fill="#161c40"/>
<circle cx="268.80" cy="252.20" r="1.55" fill="#161c40"/>
<circle cx="275.50" cy="253.60" r="1.55" fill="#161c40"/>
<circle cx="272.50" cy="256.20" r="1.55" fill="#161c40"/>
<circle cx="269.30" cy="258.80" r="1.55" fill="#161c40"/>
<path d="M192.5,186.2 L192.5,180.8 L270.8,180.8 L270.8,197.9" stroke="#0a0a0a" stroke-width="1.3" fill="none"/>
<path d="M192.5,194.2 L192.5,189.3 L245.5,189.3 L245.5,197.6" stroke="#0a0a0a" stroke-width="1.3" fill="none"/>
<line x1="219.20" y1="189.30" x2="219.20" y2="197.40" stroke="#0a0a0a" stroke-width="1.3"/>
<path d="M219.2,219.0 L219.2,201.0 L271.6,201.0 L271.6,239.2" stroke="#0a0a0a" stroke-width="1.3" fill="none"/>
<line x1="245.50" y1="201.00" x2="245.50" y2="204.80" stroke="#0a0a0a" stroke-width="1.3"/>
<text x="231.60" y="177.00" font-size="7.0" text-anchor="middle" textLength="32.0" lengthAdjust="spacingAndGlyphs" stroke="#1a1a1a" stroke-width="0.22">p &lt; 0.002</text>
<text x="219.00" y="187.20" font-size="7.0" text-anchor="middle" textLength="12.5" lengthAdjust="spacingAndGlyphs" stroke="#1a1a1a" stroke-width="0.22">n.s.</text>
<text x="233.80" y="198.60" font-size="7.0" text-anchor="middle" textLength="12.5" lengthAdjust="spacingAndGlyphs" stroke="#1a1a1a" stroke-width="0.22">n.s.</text>
<line x1="341.40" y1="195.40" x2="341.40" y2="276.90" stroke="#000" stroke-width="1.7"/>
<line x1="340.70" y1="276.50" x2="463.40" y2="276.50" stroke="#000" stroke-width="1.5"/>
<line x1="338.00" y1="276.30" x2="341.30" y2="276.30" stroke="#000" stroke-width="1.2"/>
<text x="335.50" y="278.80" font-size="7.4" text-anchor="end" textLength="4.4" lengthAdjust="spacingAndGlyphs" stroke="#1a1a1a" stroke-width="0.22">0</text>
<line x1="338.00" y1="257.50" x2="341.30" y2="257.50" stroke="#000" stroke-width="1.2"/>
<text x="335.50" y="260.00" font-size="7.4" text-anchor="end" textLength="8.8" lengthAdjust="spacingAndGlyphs" stroke="#1a1a1a" stroke-width="0.22">20</text>
<line x1="338.00" y1="238.70" x2="341.30" y2="238.70" stroke="#000" stroke-width="1.2"/>
<text x="335.50" y="241.20" font-size="7.4" text-anchor="end" textLength="8.8" lengthAdjust="spacingAndGlyphs" stroke="#1a1a1a" stroke-width="0.22">40</text>
<line x1="338.00" y1="219.90" x2="341.30" y2="219.90" stroke="#000" stroke-width="1.2"/>
<text x="335.50" y="222.40" font-size="7.4" text-anchor="end" textLength="8.8" lengthAdjust="spacingAndGlyphs" stroke="#1a1a1a" stroke-width="0.22">60</text>
<line x1="338.00" y1="201.10" x2="341.30" y2="201.10" stroke="#000" stroke-width="1.2"/>
<text x="335.50" y="203.60" font-size="7.4" text-anchor="end" textLength="8.8" lengthAdjust="spacingAndGlyphs" stroke="#1a1a1a" stroke-width="0.22">80</text>
<text transform="translate(321.40,236.30) rotate(-90)" font-size="9.2" text-anchor="middle" textLength="47.6" lengthAdjust="spacingAndGlyphs" stroke="#1a1a1a" stroke-width="0.22">AnnexinV %</text>
<line x1="363.90" y1="276.30" x2="363.90" y2="279.40" stroke="#000" stroke-width="1.2"/>
<line x1="389.60" y1="276.30" x2="389.60" y2="279.40" stroke="#000" stroke-width="1.2"/>
<line x1="415.40" y1="276.30" x2="415.40" y2="279.40" stroke="#000" stroke-width="1.2"/>
<line x1="441.20" y1="276.30" x2="441.20" y2="279.40" stroke="#000" stroke-width="1.2"/>
<text transform="translate(367.80,288.10) rotate(-51)" font-size="7.6" text-anchor="end" stroke="#1a1a1a" stroke-width="0.22">vehicle</text>
<text transform="translate(394.30,288.10) rotate(-51)" font-size="7.6" text-anchor="end" stroke="#1a1a1a" stroke-width="0.22">cytarabine</text>
<text transform="translate(420.60,290.00) rotate(-51)" font-size="7.6" text-anchor="end" stroke="#1a1a1a" stroke-width="0.22">JIB-04</text>
<text transform="translate(447.10,287.70) rotate(-51)" font-size="7.6" text-anchor="end" stroke="#1a1a1a" stroke-width="0.22">JIB-04 and</text>
<text transform="translate(454.70,294.00) rotate(-51)" font-size="7.6" text-anchor="end" stroke="#1a1a1a" stroke-width="0.22">cytarabine</text>
<rect x="355.60" y="274.30" width="16.60" height="1.70" fill="none" stroke="#222a52" stroke-width="1.1"/>
<line x1="355.60" y1="275.20" x2="372.20" y2="275.20" stroke="#222a52" stroke-width="1.1"/>
<line x1="363.90" y1="274.30" x2="363.90" y2="274.30" stroke="#222a52" stroke-width="1.1"/>
<line x1="359.50" y1="274.30" x2="368.30" y2="274.30" stroke="#222a52" stroke-width="1.3"/>
<line x1="363.90" y1="276.00" x2="363.90" y2="276.00" stroke="#222a52" stroke-width="1.1"/>
<line x1="359.50" y1="276.00" x2="368.30" y2="276.00" stroke="#222a52" stroke-width="1.3"/>
<circle cx="360.50" cy="274.60" r="1.55" fill="#161c40"/>
<circle cx="363.90" cy="274.60" r="1.55" fill="#161c40"/>
<circle cx="367.30" cy="274.60" r="1.55" fill="#161c40"/>
<rect x="381.70" y="254.50" width="16.60" height="20.00" fill="none" stroke="#222a52" stroke-width="1.1"/>
<line x1="381.70" y1="265.00" x2="398.30" y2="265.00" stroke="#222a52" stroke-width="1.1"/>
<line x1="390.00" y1="245.00" x2="390.00" y2="254.50" stroke="#222a52" stroke-width="1.1"/>
<line x1="385.60" y1="245.00" x2="394.40" y2="245.00" stroke="#222a52" stroke-width="1.3"/>
<line x1="390.00" y1="274.50" x2="390.00" y2="275.60" stroke="#222a52" stroke-width="1.1"/>
<line x1="385.60" y1="275.60" x2="394.40" y2="275.60" stroke="#222a52" stroke-width="1.3"/>
<circle cx="389.00" cy="263.60" r="1.55" fill="#161c40"/>
<circle cx="392.00" cy="264.20" r="1.55" fill="#161c40"/>
<circle cx="386.50" cy="275.00" r="1.55" fill="#161c40"/>
<circle cx="391.50" cy="275.20" r="1.55" fill="#161c40"/>
<rect x="407.10" y="225.50" width="16.60" height="45.80" fill="none" stroke="#222a52" stroke-width="1.1"/>
<line x1="407.10" y1="262.50" x2="423.70" y2="262.50" stroke="#222a52" stroke-width="1.1"/>
<line x1="415.40" y1="200.00" x2="415.40" y2="225.50" stroke="#222a52" stroke-width="1.1"/>
<line x1="411.00" y1="200.00" x2="419.80" y2="200.00" stroke="#222a52" stroke-width="1.3"/>
<line x1="415.40" y1="271.30" x2="415.40" y2="272.80" stroke="#222a52" stroke-width="1.1"/>
<line x1="411.00" y1="272.80" x2="419.80" y2="272.80" stroke="#222a52" stroke-width="1.3"/>
<circle cx="415.40" cy="200.00" r="1.55" fill="#161c40"/>
<circle cx="415.60" cy="250.10" r="1.55" fill="#161c40"/>
<circle cx="415.60" cy="262.60" r="1.55" fill="#161c40"/>
<circle cx="417.00" cy="271.00" r="1.55" fill="#161c40"/>
<circle cx="413.40" cy="272.00" r="1.55" fill="#161c40"/>
<rect x="432.75" y="250.10" width="16.90" height="13.40" fill="none" stroke="#222a52" stroke-width="1.1"/>
<line x1="432.75" y1="257.30" x2="449.65" y2="257.30" stroke="#222a52" stroke-width="1.1"/>
<line x1="441.20" y1="247.00" x2="441.20" y2="250.10" stroke="#222a52" stroke-width="1.1"/>
<line x1="436.80" y1="247.00" x2="445.60" y2="247.00" stroke="#222a52" stroke-width="1.3"/>
<line x1="441.20" y1="263.50" x2="441.20" y2="274.70" stroke="#222a52" stroke-width="1.1"/>
<line x1="436.80" y1="274.70" x2="445.60" y2="274.70" stroke="#222a52" stroke-width="1.3"/>
<circle cx="441.20" cy="247.20" r="1.55" fill="#161c40"/>
<circle cx="441.50" cy="254.70" r="1.55" fill="#161c40"/>
<circle cx="439.60" cy="259.80" r="1.55" fill="#161c40"/>
<circle cx="443.00" cy="260.20" r="1.55" fill="#161c40"/>
<circle cx="441.20" cy="274.60" r="1.55" fill="#161c40"/>
<path d="M363.7,189.0 L363.7,177.5 L441.2,177.5 L441.2,183.3" stroke="#0a0a0a" stroke-width="1.3" fill="none"/>
<path d="M389.6,189.6 L389.6,185.2 L441.2,185.2 L441.2,246.0" stroke="#0a0a0a" stroke-width="1.3" fill="none"/>
<line x1="415.00" y1="185.20" x2="415.00" y2="195.80" stroke="#0a0a0a" stroke-width="1.3"/>
<path d="M363.7,272.0 L363.7,193.8 L415.0,193.8 L415.0,196.7" stroke="#0a0a0a" stroke-width="1.3" fill="none"/>
<line x1="389.60" y1="193.80" x2="389.60" y2="243.60" stroke="#0a0a0a" stroke-width="1.3"/>
<text x="402.00" y="174.80" font-size="7.0" text-anchor="middle" textLength="28.5" lengthAdjust="spacingAndGlyphs" stroke="#1a1a1a" stroke-width="0.22">p &lt; 0.01</text>
<text x="415.00" y="184.00" font-size="7.0" text-anchor="middle" textLength="12.5" lengthAdjust="spacingAndGlyphs" stroke="#1a1a1a" stroke-width="0.22">n.s.</text>
<text x="379.00" y="192.80" font-size="7.0" text-anchor="middle" textLength="12.5" lengthAdjust="spacingAndGlyphs" stroke="#1a1a1a" stroke-width="0.22">n.s.</text>
<rect x="0.00" y="0.00" width="520.00" height="1.20" fill="#000"/>
<rect x="0.00" y="0.00" width="1.20" height="332.00" fill="#000"/>
<rect x="518.50" y="0.00" width="1.50" height="332.00" fill="#000"/>
<rect x="0.00" y="330.50" width="520.00" height="1.50" fill="#000"/>
</g>
</svg>
</body></html>
